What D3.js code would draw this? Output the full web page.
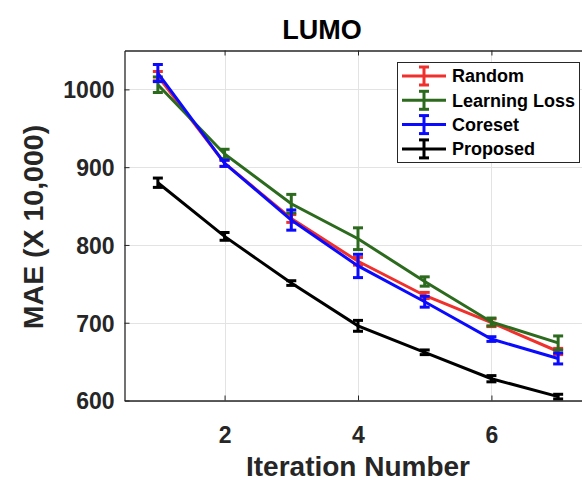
<!DOCTYPE html>
<html>
<head>
<meta charset="utf-8">
<script src="https://cdn.jsdelivr.net/npm/d3@7"></script>
<style>
  body { margin: 0; background: #fff; }
  svg text { font-family: "Liberation Sans", Arial, sans-serif; font-weight: bold; }
</style>
</head>
<body>
<svg id="chart" width="582" height="481"></svg>
<script>
// iteration numbers and MAE values (x 10,000)
var iterations = [1, 2, 3, 4, 5, 6, 7];
var randomMae  = [1017, 905, 834, 779, 735, 700, 663];
var randomErr  = [6, 4, 5, 5, 4, 5, 4];
var llossMae   = [1006, 917, 853, 808, 753, 701, 674];
var llossErr   = [10, 6, 12, 14, 6, 5, 9];
var coresetMae = [1021, 905, 832, 773, 727, 679, 654];
var coresetErr = [11, 4, 13, 15, 7, 3, 7];
var proposedMae = [880, 811, 751, 696, 662, 628, 605];
var proposedErr = [6, 5, 3, 7, 3, 4, 3];
var xTicks = [2, 4, 6];
var yTicks = [600, 700, 800, 900, 1000];

var series = [
  {name: "Random", color: "#f0302c", vals: randomMae, err: randomErr},
  {name: "Learning Loss", color: "#2c6a1e", vals: llossMae, err: llossErr},
  {name: "Coreset", color: "#0a0aff", vals: coresetMae, err: coresetErr},
  {name: "Proposed", color: "#000000", vals: proposedMae, err: proposedErr}
];

var svg = d3.select("#chart");
var pLeft = 124.5, pRight = 591.5, pTop = 50.5, pBottom = 400.5;

var x = d3.scaleLinear().domain([0.5, 7.5]).range([pLeft, pRight]);
var y = d3.scaleLinear().domain([600, 1050]).range([pBottom, pTop]);
var axisCol = "#262626";

// grid
var grid = svg.append("g");
grid.selectAll(".gx").data(xTicks).enter().append("line")
  .attr("x1", function(d){ return Math.round(x(d)) + 0.5; })
  .attr("x2", function(d){ return Math.round(x(d)) + 0.5; })
  .attr("y1", pTop).attr("y2", pBottom)
  .attr("stroke", "#e3e3e3").attr("stroke-width", 1);
grid.selectAll(".gy").data(yTicks).enter().append("line")
  .attr("y1", function(d){ return Math.round(y(d)) + 0.5; })
  .attr("y2", function(d){ return Math.round(y(d)) + 0.5; })
  .attr("x1", pLeft).attr("x2", pRight)
  .attr("stroke", "#e3e3e3").attr("stroke-width", 1);

// axes (inward ticks like matlab)
var fmt = d3.format("d");
var xAxis = d3.axisBottom(x).tickValues(xTicks).tickFormat(fmt).tickSizeInner(-5).tickSizeOuter(0).tickPadding(26);
var gx = svg.append("g").attr("transform", "translate(0," + pBottom + ")").call(xAxis);
var yAxis = d3.axisLeft(y).tickValues(yTicks).tickFormat(fmt).tickSizeInner(-5).tickSizeOuter(0).tickPadding(10);
var gy = svg.append("g").attr("transform", "translate(" + pLeft + ",0)").call(yAxis);
var gtop = svg.append("g").attr("transform", "translate(0," + pTop + ")")
  .call(d3.axisTop(x).tickValues(xTicks).tickSizeInner(-5).tickSizeOuter(0).tickFormat(""));
[gx, gy, gtop].forEach(function(g) {
  g.selectAll("path").attr("stroke", axisCol).attr("stroke-width", 1.3);
  g.selectAll("line").attr("stroke", axisCol);
  g.selectAll("text").attr("fill", axisCol).style("font-size", "23px")
    .style("font-family", "'Liberation Sans', Arial, sans-serif").style("font-weight", "bold");
});
gy.selectAll("text").attr("dy", "0.36em");

// series lines + error bars
var line = d3.line().x(function(d){ return x(d.x); }).y(function(d){ return y(d.y); });
var capW = 5;
series.forEach(function(s) {
  var pts = iterations.map(function(it, i){ return {x: it, y: s.vals[i], e: s.err[i]}; });
  var g = svg.append("g");
  g.append("path").datum(pts).attr("d", line)
    .attr("fill", "none").attr("stroke", s.color).attr("stroke-width", 3);
  var eb = g.selectAll(".eb").data(pts).enter().append("g");
  eb.append("line")
    .attr("x1", function(d){ return x(d.x); }).attr("x2", function(d){ return x(d.x); })
    .attr("y1", function(d){ return y(d.y - d.e); }).attr("y2", function(d){ return y(d.y + d.e); })
    .attr("stroke", s.color).attr("stroke-width", 3);
  [1, -1].forEach(function(sg) {
    eb.append("line")
      .attr("x1", function(d){ return x(d.x) - capW; }).attr("x2", function(d){ return x(d.x) + capW; })
      .attr("y1", function(d){ return y(d.y + sg * d.e); }).attr("y2", function(d){ return y(d.y + sg * d.e); })
      .attr("stroke", s.color).attr("stroke-width", 3);
  });
});

// title and labels
svg.append("text").attr("x", 322).attr("y", 39).attr("text-anchor", "middle")
  .style("font-size", "27px").attr("fill", "#000").text("LUMO");
svg.append("text").attr("x", 358).attr("y", 476).attr("text-anchor", "middle")
  .style("font-size", "28px").attr("fill", axisCol).text("Iteration Number");
svg.append("text").attr("transform", "translate(43,227) rotate(-90)").attr("text-anchor", "middle")
  .style("font-size", "28.5px").attr("fill", axisCol).text("MAE (X 10,000)");

// legend
var leg = svg.append("g");
leg.append("rect").attr("x", 397.5).attr("y", 62.5).attr("width", 182).attr("height", 100)
  .attr("fill", "#fff").attr("stroke", axisCol).attr("stroke-width", 1);
var rows = leg.selectAll(".row").data(series).enter().append("g")
  .attr("transform", function(d, i){ return "translate(0," + (76 + i * 24.3) + ")"; });
rows.append("line").attr("x1", 402).attr("x2", 446).attr("y1", 0).attr("y2", 0)
  .attr("stroke", function(d){ return d.color; }).attr("stroke-width", 3);
rows.append("line").attr("x1", 424).attr("x2", 424).attr("y1", -9).attr("y2", 9)
  .attr("stroke", function(d){ return d.color; }).attr("stroke-width", 3);
[-9, 9].forEach(function(dy) {
  rows.append("line").attr("x1", 419).attr("x2", 429).attr("y1", dy).attr("y2", dy)
    .attr("stroke", function(d){ return d.color; }).attr("stroke-width", 3);
});
rows.append("text").attr("x", 452).attr("y", 0).attr("dy", "0.36em")
  .style("font-size", "18px").attr("fill", "#000").text(function(d){ return d.name; });
</script>
</body>
</html>
